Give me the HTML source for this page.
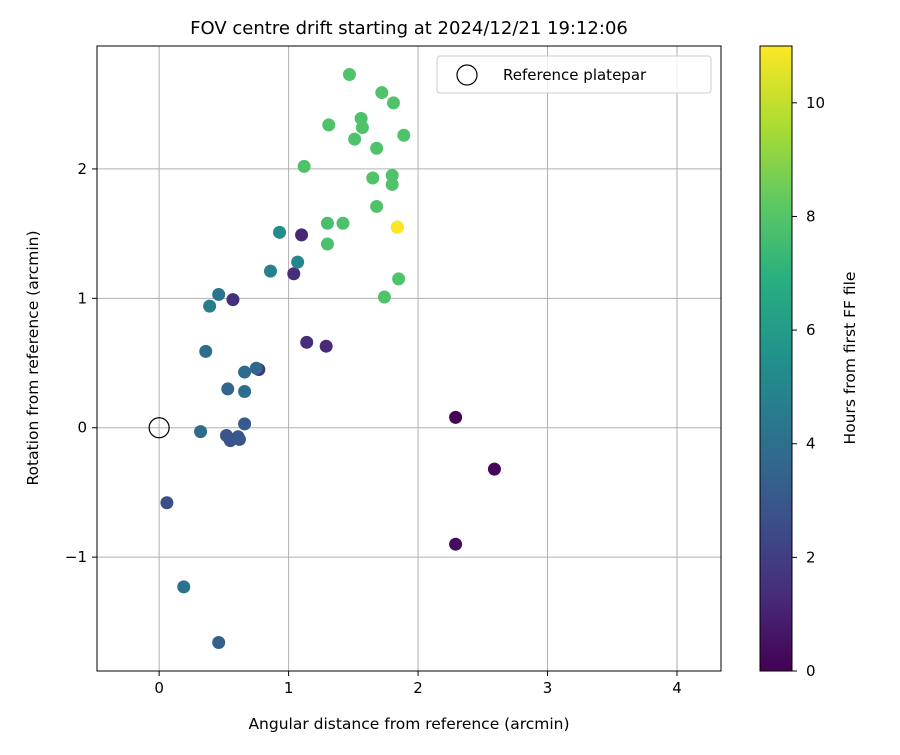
<!DOCTYPE html>
<html><head><meta charset="utf-8"><style>
body{margin:0;background:#fff;font-family:"Liberation Sans","DejaVu Sans",sans-serif}
svg text{font-family:"DejaVu Sans","Liberation Sans",sans-serif;fill:#000}
</style></head><body>
<svg id="chart" width="900" height="750" viewBox="0 0 900 750" xmlns="http://www.w3.org/2000/svg">
<defs><linearGradient id="vir" x1="0" y1="1" x2="0" y2="0">
<stop offset="0" stop-color="#440154"/><stop offset="0.125" stop-color="#472d7b"/><stop offset="0.25" stop-color="#3b528b"/><stop offset="0.375" stop-color="#2c728e"/><stop offset="0.5" stop-color="#21918c"/><stop offset="0.625" stop-color="#28ae80"/><stop offset="0.75" stop-color="#5ec962"/><stop offset="0.875" stop-color="#addc30"/><stop offset="1" stop-color="#fde725"/>
</linearGradient></defs>
<text x="409" y="34" font-size="18" text-anchor="middle">FOV centre drift starting at 2024/12/21 19:12:06</text>
<g id="grid"></g>
<g id="pts"></g>
<rect x="97" y="46" width="624" height="625" fill="none" stroke="#000" stroke-width="1"/>
<g id="ticks"></g>
<text x="409" y="729" font-size="15.5" text-anchor="middle">Angular distance from reference (arcmin)</text>
<text transform="translate(38,358) rotate(-90)" font-size="15.5" text-anchor="middle">Rotation from reference (arcmin)</text>
<g>
<rect x="437" y="56" width="274" height="37" rx="3" fill="#fff" fill-opacity="0.8" stroke="#ccc"/>
<circle cx="467" cy="75" r="10" fill="none" stroke="#000" stroke-width="1.2"/>
<text x="503" y="80" font-size="15">Reference platepar</text>
</g>
<rect x="760" y="46" width="32" height="625" fill="url(#vir)" stroke="#000" stroke-width="1"/>
<g id="cbticks"></g>
<text transform="translate(855,358) rotate(-90)" font-size="15.5" text-anchor="middle">Hours from first FF file</text>
</svg>
<script>
const xs=[2.29,2.59,2.29,1.10,1.04,0.57,1.14,1.29,0.77,0.06,0.62,0.55,0.52,0.66,0.61,0.32,0.53,0.66,0.66,0.75,0.36,0.46,0.19,0.46,0.39,0.86,1.07,0.93,1.30,1.30,1.42,1.12,1.31,1.47,1.56,1.57,1.51,1.72,1.81,1.68,1.89,1.65,1.80,1.80,1.68,1.85,1.74,1.84,1.84];
const ys=[0.08,-0.32,-0.90,1.49,1.19,0.99,0.66,0.63,0.45,-0.58,-0.09,-0.10,-0.06,0.03,-0.07,-0.03,0.30,0.28,0.43,0.46,0.59,1.03,-1.23,-1.66,0.94,1.21,1.28,1.51,1.58,1.42,1.58,2.02,2.34,2.73,2.39,2.32,2.23,2.59,2.51,2.16,2.26,1.93,1.95,1.88,1.71,1.15,1.01,1.55,1.55];
const hours=[0.1,0.2,0.3,1.2,1.4,1.5,1.4,1.3,1.5,2.6,2.8,2.7,2.9,3.1,3.0,3.8,3.6,3.9,3.8,3.7,3.9,4.2,4.1,3.4,4.6,4.8,5.0,5.3,7.7,7.8,7.8,7.9,7.9,7.9,7.8,7.9,7.9,7.9,7.9,7.9,7.9,7.9,7.9,7.9,7.9,7.9,7.9,7.9,11.0];
const xTicks=[0,1,2,3,4];
const yTicks=[-1,0,1,2];
const cbTicks=[0,2,4,6,8,10];
const X0=-0.48,X1=4.34,Y0=-1.88,Y1=2.95,L=97,R=721,T=46,B=671,HMAX=11;
const sx=v=>L+(v-X0)/(X1-X0)*(R-L);
const sy=v=>B-(v-Y0)/(Y1-Y0)*(B-T);
const sc=v=>B-v/HMAX*(B-T);
const vir=[[68,1,84],[71,45,123],[59,82,139],[44,114,142],[33,145,140],[40,174,128],[94,201,98],[173,220,48],[253,231,37]];
function col(h){let t=Math.max(0,Math.min(1,h/HMAX))*8,i=Math.min(7,Math.floor(t)),f=t-i;const a=vir[i],b=vir[i+1];return `rgb(${a.map((c,k)=>Math.round(c+(b[k]-c)*f)).join(',')})`;}
const NS='http://www.w3.org/2000/svg';
function mk(p,tag,at){const e=document.createElementNS(NS,tag);for(const k in at)e.setAttribute(k,at[k]);p.appendChild(e);return e;}
const g=document.getElementById('grid'),tk=document.getElementById('ticks'),pts=document.getElementById('pts'),cb=document.getElementById('cbticks');
const fmt=v=>v<0?'\u2212'+(-v):String(v);
xTicks.forEach(v=>{const x=sx(v);
const l=mk(g,'line',{x1:x,x2:x,y1:T,y2:B,stroke:'#b0b0b0','stroke-width':1});


mk(tk,'line',{x1:x,x2:x,y1:B,y2:B+5,stroke:'#000'});
const t=mk(tk,'text',{x:x,y:B+22,'font-size':15,'text-anchor':'middle'});t.textContent=fmt(v);

});
yTicks.forEach(v=>{const y=sy(v);
const l=mk(g,'line',{x1:L,x2:R,y1:y,y2:y,stroke:'#b0b0b0','stroke-width':1});


mk(tk,'line',{x1:L-5,x2:L,y1:y,y2:y,stroke:'#000'});
const t=mk(tk,'text',{x:L-10,y:y+5,'font-size':15,'text-anchor':'end'});t.textContent=fmt(v);

});
cbTicks.forEach(v=>{const y=sc(v);
mk(cb,'line',{x1:792,x2:797,y1:y,y2:y,stroke:'#000'});
const t=mk(cb,'text',{x:806,y:y+5,'font-size':15});t.textContent=v;

});
xs.forEach((x,i)=>{const c=mk(pts,'circle',{cx:sx(x),cy:sy(ys[i]),r:6.5,fill:col(hours[i])});

});
const ref=mk(pts,'circle',{cx:sx(0),cy:sy(0),r:10,fill:'none',stroke:'#000','stroke-width':1.2});


</script>
</body></html>
